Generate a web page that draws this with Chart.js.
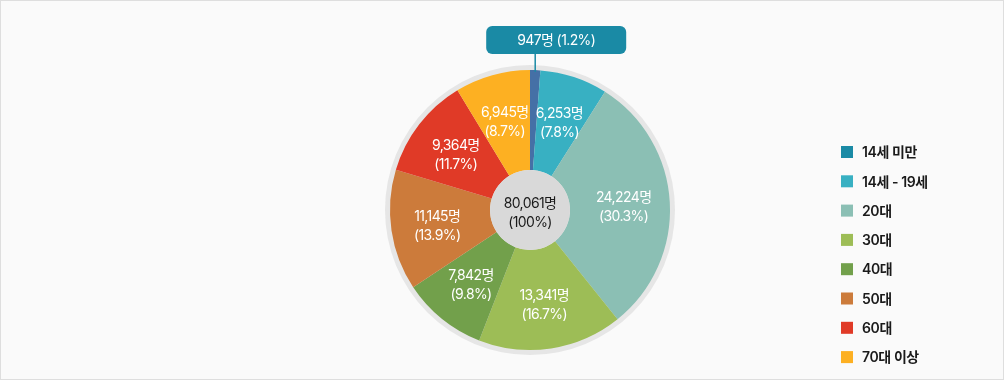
<!DOCTYPE html>
<html>

<head>
    <meta charset="utf-8">
    <title>연령대별 인원</title>
    <script src="https://cdn.jsdelivr.net/npm/chart.js"></script>
    <style>
        html, body { margin: 0; padding: 0; background: #fff; }
        .frame {
            width: 1002px; height: 378px;
            border: 1px solid #dedede;
            background: #fafafa;
            position: relative;
        }
    </style>
</head>

<body>
    <div class="frame">
        <canvas id="age-chart" width="1002" height="378"></canvas>
    </div>

    <script>
        // age groups and head counts
        const ageLabels = ['14세 미만', '14세 - 19세', '20대', '30대', '40대', '50대', '60대', '70대 이상'];
        const ageCounts = [947, 6253, 24224, 13341, 7842, 11145, 9364, 6945];

        const sliceColors = ['#4570a6', '#38b0c2', '#8bbfb4', '#9dbd56', '#72a04b', '#cc7b3b', '#e03a27', '#fdb022'];
        const legendColors = ['#1a8aa5', '#38b0c2', '#8bbfb4', '#9dbd56', '#72a04b', '#cc7b3b', '#e03a27', '#fdb022'];

        const FONT = 'Inter, "Noto Sans CJK KR", sans-serif';
        const total = ageCounts.reduce((a, b) => a + b, 0);
        const fmt = n => n.toLocaleString('en-US');
        const pct = n => (n / total * 100).toFixed(1) + '%';

        // gray rim behind the pie, gray disc + labels on top
        const pieDecor = {
            id: 'pieDecor',
            beforeDatasetsDraw(chart) {
                const arc = chart.getDatasetMeta(0).data[0];
                const ctx = chart.ctx;
                ctx.save();
                ctx.beginPath();
                ctx.arc(arc.x, arc.y, arc.outerRadius + 5, 0, Math.PI * 2);
                ctx.fillStyle = '#e6e6e6';
                ctx.fill();
                ctx.restore();
            },
            afterDatasetsDraw(chart) {
                const meta = chart.getDatasetMeta(0);
                const ctx = chart.ctx;
                const first = meta.data[0];
                const cx = first.x, cy = first.y;
                ctx.save();
                ctx.letterSpacing = '-0.6px';
                ctx.textAlign = 'center';
                ctx.textBaseline = 'middle';

                // center disc
                ctx.beginPath();
                ctx.arc(cx, cy, first.innerRadius, 0, Math.PI * 2);
                ctx.fillStyle = '#d9d9d9';
                ctx.fill();
                ctx.fillStyle = '#1a1a1a';
                ctx.font = '14px ' + FONT;
                ctx.fillText(fmt(total) + '명', cx, cy - 6);
                ctx.fillText('(100%)', cx, cy + 13);

                // slice labels, a bit outside the ring centroid
                meta.data.forEach((el, i) => {
                    if (i === 0) return;
                    const a = (el.startAngle + el.endAngle) / 2;
                    const r = el.outerRadius * 0.67;
                    const x = cx + Math.cos(a) * r;
                    const y = cy + Math.sin(a) * r;
                    ctx.fillStyle = '#ffffff';
                    ctx.fillText(fmt(ageCounts[i]) + '명', x, y - 7);
                    ctx.fillText('(' + pct(ageCounts[i]) + ')', x, y + 12);
                });

                // callout for the tiny first slice
                const mid = (first.startAngle + first.endAngle) / 2;
                const lx = cx + Math.cos(mid) * first.outerRadius;
                const ly = cy + Math.sin(mid) * first.outerRadius;
                const boxW = 140, boxH = 28, boxTop = 25;
                const boxLeft = lx - 49;
                ctx.strokeStyle = '#1a8aa5';
                ctx.lineWidth = 1.5;
                ctx.beginPath();
                ctx.moveTo(lx, ly + 2);
                ctx.lineTo(lx, boxTop + boxH);
                ctx.stroke();
                ctx.beginPath();
                ctx.roundRect(boxLeft, boxTop, boxW, boxH, 6);
                ctx.fillStyle = '#1a8aa5';
                ctx.fill();
                ctx.fillStyle = '#ffffff';
                ctx.fillText(fmt(ageCounts[0]) + '명 (' + pct(ageCounts[0]) + ')', boxLeft + boxW / 2, boxTop + boxH / 2 + 1);

                // legend
                ctx.textAlign = 'left';
                ctx.letterSpacing = '-0.4px';
                ctx.font = '600 14px ' + FONT;
                ageLabels.forEach((lab, i) => {
                    const y = 151 + i * 29.3;
                    ctx.fillStyle = legendColors[i];
                    ctx.fillRect(840, y - 6, 12, 12);
                    ctx.fillStyle = '#1a1a1a';
                    ctx.fillText(lab, 861, y + 1);
                });
                ctx.restore();
            }
        };

        const ctx = document.getElementById('age-chart').getContext('2d');
        new Chart(ctx, {
            type: 'doughnut',
            data: {
                labels: ageLabels,
                datasets: [{
                    data: ageCounts,
                    backgroundColor: sliceColors,
                    borderWidth: 0
                }]
            },
            options: {
                responsive: false,
                animation: false,
                cutout: 40,
                layout: {
                    padding: { left: 389, right: 333, top: 69, bottom: 29 }
                },
                plugins: {
                    legend: { display: false },
                    tooltip: { enabled: false }
                }
            },
            plugins: [pieDecor]
        });
    </script>
</body>

</html>
